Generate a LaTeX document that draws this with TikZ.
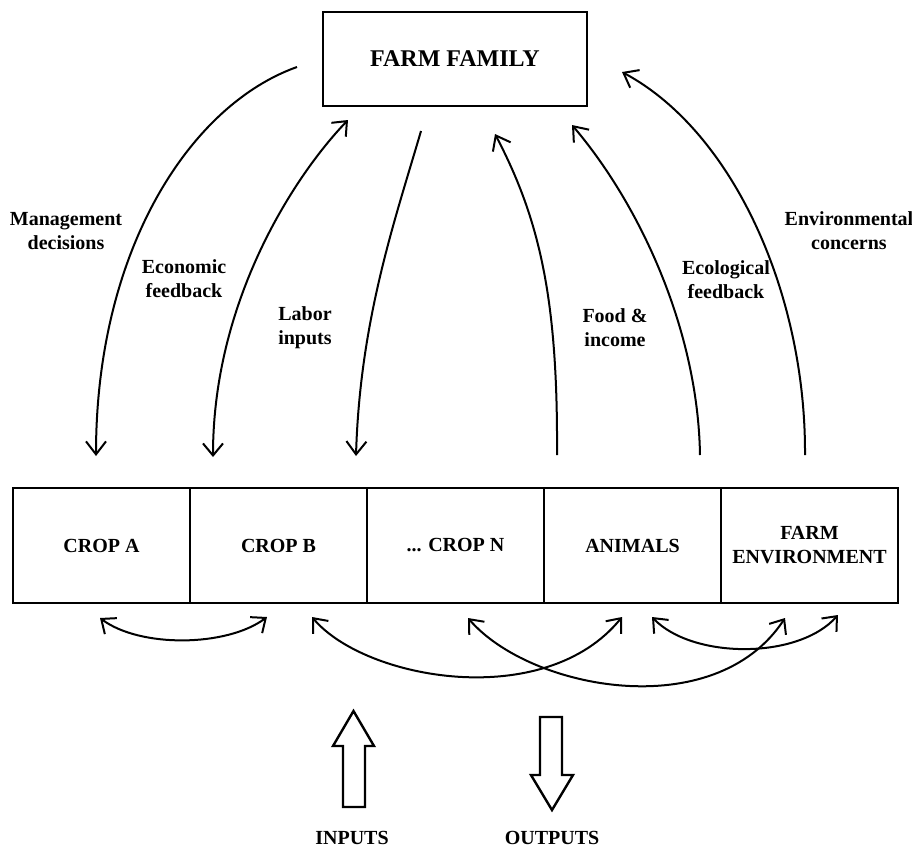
\documentclass[tikz,border=0pt]{standalone}
\usepackage{fontspec}
\setmainfont{Liberation Serif}
\usepackage{tikz}
\usetikzlibrary{arrows.meta, positioning}

\begin{document}
\begin{tikzpicture}[x=0.5pt, y=-0.5pt,
            box/.style={draw, line width=1.1pt, rectangle, inner sep=0pt, outer sep=0pt, minimum width=88.5pt, minimum height=57.5pt, font=\bfseries, align=center},
            lbl/.style={font=\bfseries, align=center, inner sep=0pt},
            flow/.style={line width=1pt, -{Straight Barb[length=6.5pt, width=10pt, line width=1pt]}},
            both/.style={line width=1pt, {Straight Barb[length=6pt, width=10pt, line width=1pt]}-{Straight Barb[length=6pt, width=10pt, line width=1pt]}},
            hollow/.style={draw, line width=1.2pt, line join=miter}]

            \useasboundingbox (0,0) rectangle (912,847);

            \node[box, minimum width=132pt, minimum height=47pt, font=\bfseries\large] (family) at (455,59) {FARM FAMILY};

            \node[box] (cropa) at (101.5,545.5) {CROP A};
            \node[box] (cropb) at (278.5,545.5) {CROP B};
            \node[box] (cropn) at (455.5,545.5) {... CROP N};
            \node[box] (animals) at (632.5,545.5) {ANIMALS};
            \node[box] (env) at (809.5,545.5) {FARM\\ENVIRONMENT};

            \draw[flow] ([shift={(-26,8)}]family.west) .. controls +(-107,38) and +(0,-206) .. ([shift={(-5.5,-32)}]cropa.north);
            \draw[both] ([shift={(25,14)}]family.south west) .. controls +(-53,55) and +(0,-157) .. ([shift={(-65.5,-31)}]cropb.north);
            \draw[flow] ([shift={(-34,25)}]family.south) .. controls +(-26,89) and +(4,-136) .. ([shift={(-99.5,-32)}]cropn.north);
            \draw[flow] ([shift={(-75.5,-33)}]animals.north) .. controls +(1,-155) and +(45,86) .. ([shift={(40,28)}]family.south);
            \draw[flow] ([shift={(67.5,-33)}]animals.north) .. controls +(-2,-125) and +(68,80) .. ([shift={(-15,19)}]family.south east);
            \draw[flow] ([shift={(-4.5,-33)}]env.north) .. controls +(1,-160) and +(112,60) .. ([shift={(35,13)}]family.east);

            \node[lbl] (mgmt) at (66,231) {Management\\decisions};
            \node[lbl] (econ) at (184,279) {Economic\\feedback};
            \node[lbl] (labor) at (305,328) {Labor\\inputs};
            \node[lbl] (food) at (615,328) {Food \&\\income};
            \node[lbl] (ecol) at (726,280) {Ecological\\feedback};
            \node[lbl] (envc) at (849,231) {Environmental\\concerns};

            \draw[both] ([shift={(-1.5,15)}]cropa.south) .. controls +(40,30) and +(-40,30) .. ([shift={(-11.5,14)}]cropb.south);
            \draw[both] ([shift={(33.5,14)}]cropb.south) .. controls +(53,63) and +(-77,95) .. ([shift={(-10.5,14)}]animals.south);
            \draw[both] ([shift={(12.5,15)}]cropn.south) .. controls +(62,72) and +(-70,107) .. ([shift={(-24.5,15)}]env.south);
            \draw[both] ([shift={(19.5,14)}]animals.south) .. controls +(40,42) and +(-40,45) .. ([shift={(28.5,12)}]env.south);

            \draw[hollow] (343,807) -- (343,746) -- (333,746) -- (353.5,711) -- (374,746) -- (365,746) -- (365,807) -- cycle;
            \draw[hollow] (540,717) -- (562,717) -- (562,775) -- (573,775) -- (552,810) -- (531,775) -- (540,775) -- cycle;

            \node[lbl] (inputs) at (352,838) {INPUTS};
            \node[lbl] (outputs) at (552,838) {OUTPUTS};
        \end{tikzpicture}
\end{document}
